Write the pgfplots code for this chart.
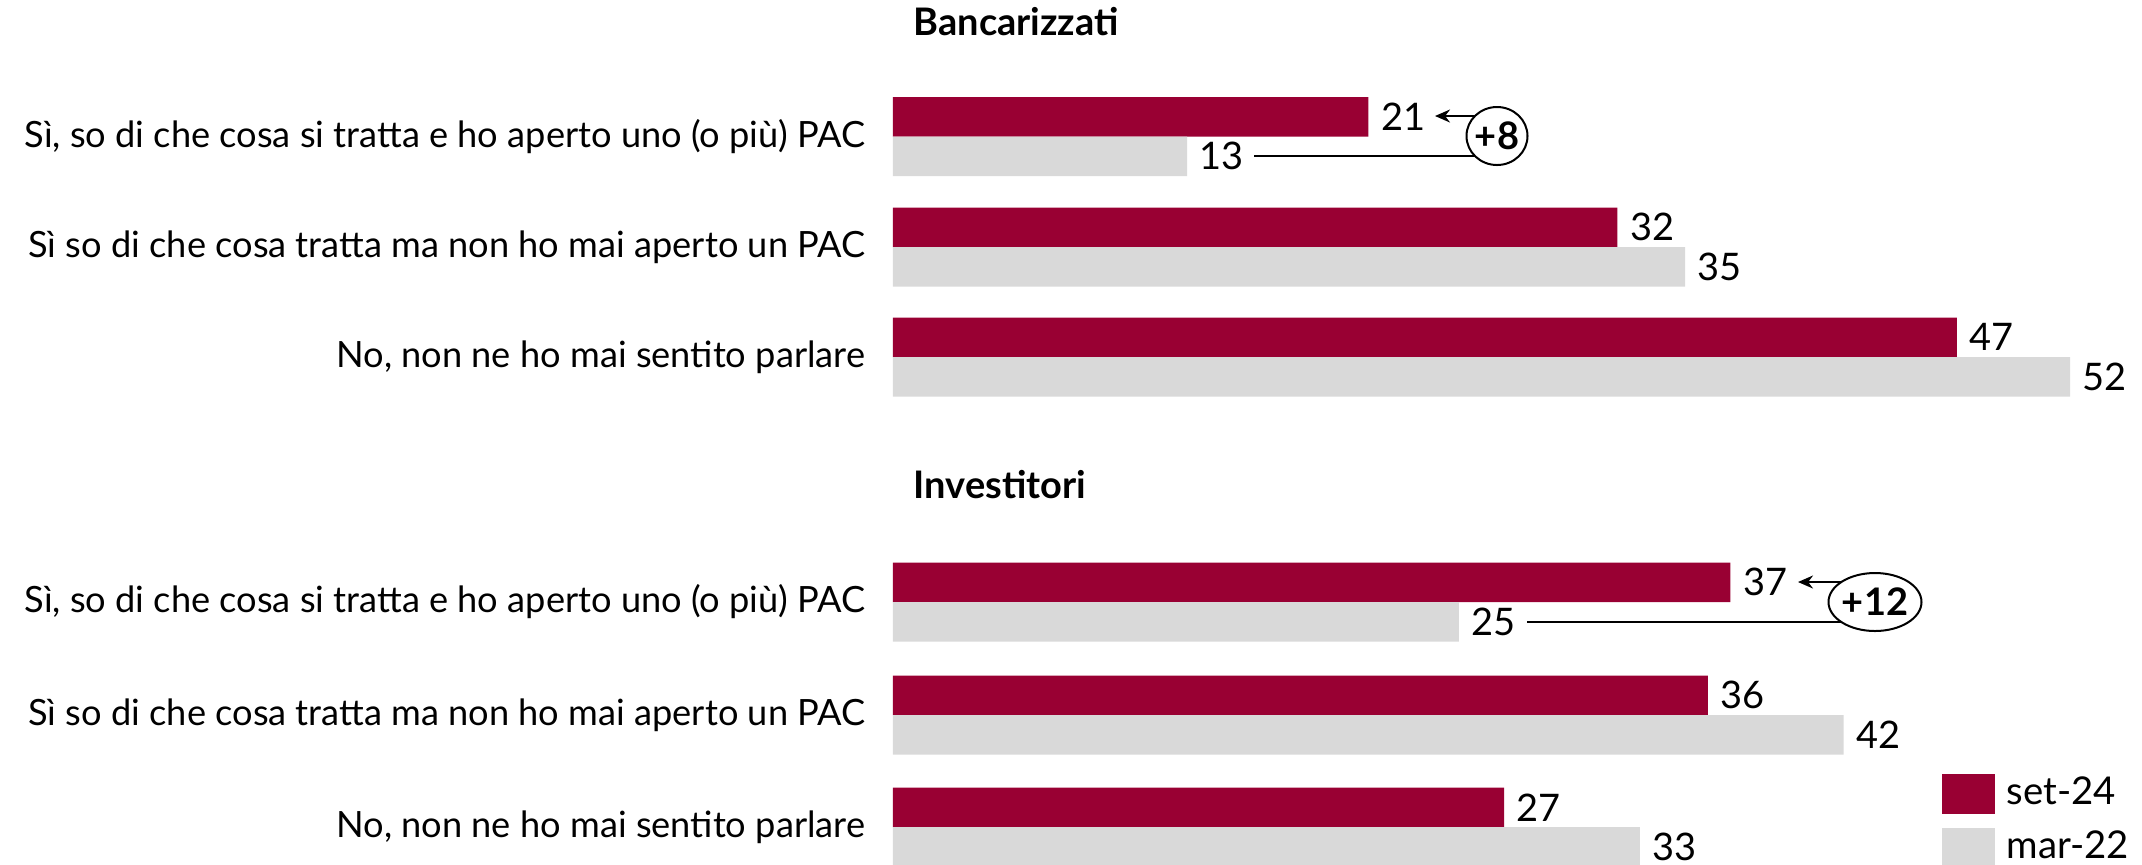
\documentclass[border=0pt]{standalone}
\usepackage{fontspec}
\setmainfont{Lato}
\usepackage{pgfplots}
\pgfplotsset{compat=1.18}
\usetikzlibrary{arrows.meta}
\definecolor{cred}{HTML}{990033}
\definecolor{cgrey}{HTML}{D9D9D9}
\newcommand\lab{\fontsize{10.3}{12}\selectfont}
\newcommand\num{\fontsize{10.8}{13}\selectfont}
\newcommand\leg{\fontsize{10.9}{13}\selectfont}
\newcommand\ttl{\fontsize{10.8}{13}\selectfont\bfseries}
\begin{document}
\begin{tikzpicture}[x=0.1mm,y=-0.1mm]
\useasboundingbox (0,0) rectangle (2142,864);
\begin{axis}[
  at={(89.3mm,0mm)}, anchor=origin,
  x=2.2635mm, y=0.1mm,
  xmin=0, xmax=55.18, ymin=-864, ymax=0,
  axis line style={draw=none},
  xtick=\empty,
  ytick={-136.5,-247,-357,-602,-715,-827},
  yticklabels={{Sì, so di che cosa si tratta e ho aperto uno (o più) PAC},
               {Sì so di che cosa tratta ma non ho mai aperto un PAC},
               {No, non ne ho mai sentito parlare},
               {Sì, so di che cosa si tratta e ho aperto uno (o più) PAC},
               {Sì so di che cosa tratta ma non ho mai aperto un PAC},
               {No, non ne ho mai sentito parlare}},
  major tick length=0pt,
  yticklabel style={font=\lab, anchor=base east, inner sep=0pt, xshift=-2.7mm, yshift=-3.1pt},
  xbar, bar width=3.95mm,
  clip=false,
  nodes near coords,
  /pgf/number format/assume math mode=true,
  every node near coord/.append style={font=\num, anchor=west, inner sep=0pt, xshift=1.2mm},
  legend style={at={(0.8391,0.1053)}, anchor=north west, draw=none, fill=none,
    inner sep=0pt, row sep=1.4mm, column sep=1.2mm, font=\leg,
    nodes={inner sep=0pt}},
  legend cell align=left,
  legend image code/.code={\fill[#1] (0mm,-2mm) rectangle (5.3mm,2mm);},
]
\addplot[fill=cred, draw=none, bar shift=1.975mm] coordinates {(21,-136.5) (32,-247) (47,-357) (37,-602) (36,-715) (27,-827)};
\addplot[fill=cgrey, draw=none, bar shift=-1.975mm] coordinates {(13,-136.5) (35,-247) (52,-357) (25,-602) (42,-715) (33,-827)};
\legend{set-24, mar-22}
\end{axis}
\node[font=\ttl, anchor=base west, inner sep=0pt] at (913,35) {Bancarizzati};
\node[font=\ttl, anchor=base west, inner sep=0pt] at (913,498) {Investitori};
% annotation group 1
\draw[line width=0.2mm, -{Stealth[length=1.5mm,width=1.3mm]}] (1497,116) -- (1435,116);
\draw[line width=0.2mm] (1254,156) -- (1497,156);
\draw[line width=0.2mm, fill=white] (1497,136) ellipse [x radius=3.05mm, y radius=2.9mm];
\node[font=\num\bfseries, inner sep=0pt] at (1497,136) {+8};
% annotation group 2
\draw[line width=0.2mm, -{Stealth[length=1.5mm,width=1.3mm]}] (1875,582) -- (1798,582);
\draw[line width=0.2mm] (1527,622) -- (1875,622);
\draw[line width=0.2mm, fill=white] (1875,602) ellipse [x radius=4.65mm, y radius=2.9mm];
\node[font=\num\bfseries, inner sep=0pt] at (1875,602) {+12};
\end{tikzpicture}
\end{document}
